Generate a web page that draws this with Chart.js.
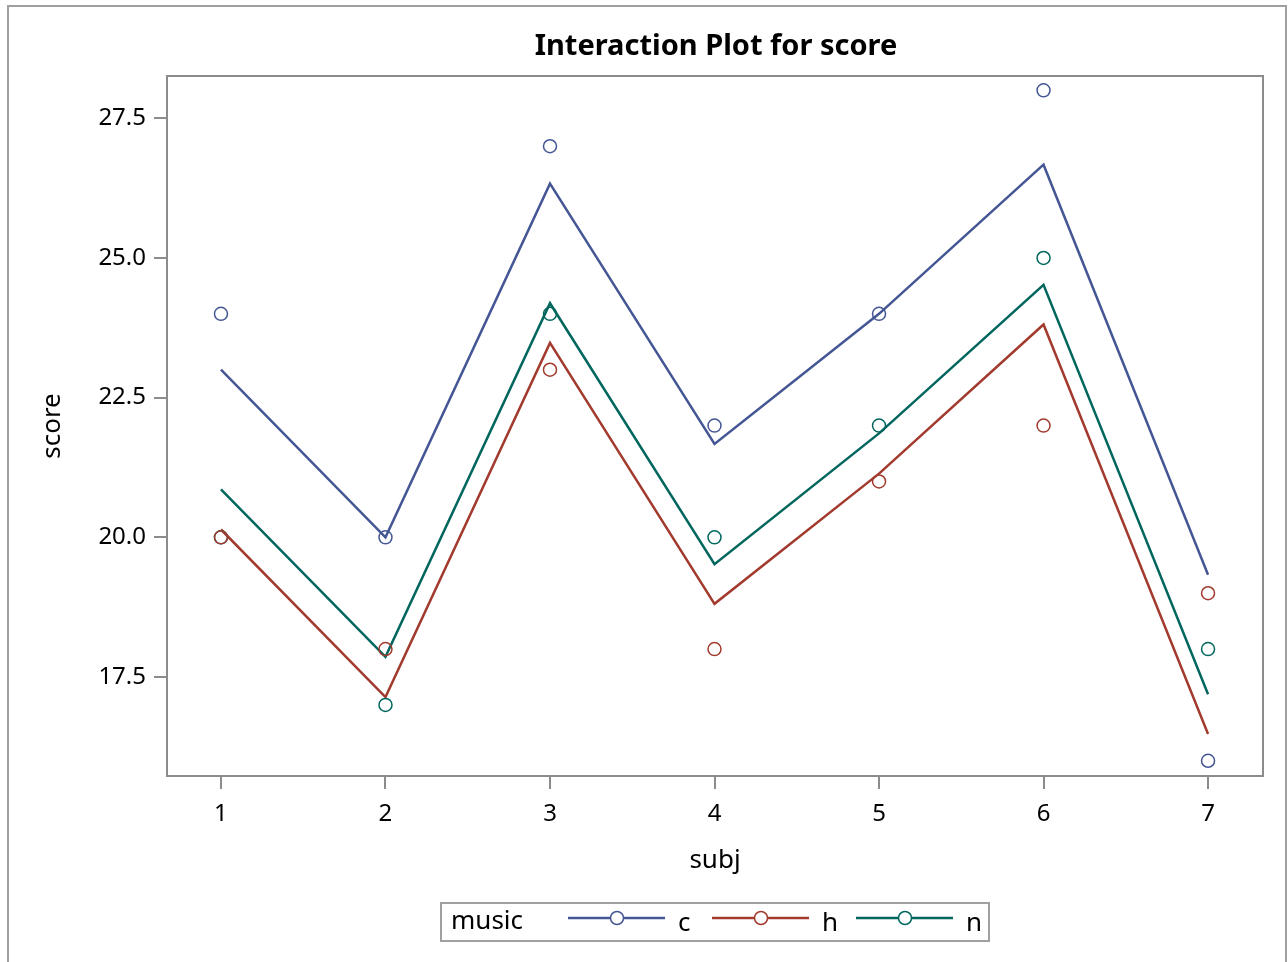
<!DOCTYPE html>
<html>
<head>
  <title>Interaction Plot for score</title>
  <script src="https://cdn.jsdelivr.net/npm/chart.js"></script>
  <style>
    html, body { margin: 0; padding: 0; background: #fff; }
  </style>
</head>
<body>
<canvas id="myChart" width="1288" height="962"></canvas>
<script>
  // subjects on the x axis
  const subj = [1, 2, 3, 4, 5, 6, 7];
  const musicLevels = ['c', 'h', 'n'];

  // observed scores per music level
  const obsC = [24, 20, 27, 22, 24, 28, 16];
  const obsH = [20, 18, 23, 18, 21, 22, 19];
  const obsN = [20, 17, 24, 20, 22, 25, 18];

  // fitted (additive model) profiles
  const fitC = [23.00, 20.00, 26.33, 21.67, 24.00, 26.67, 19.33];
  const fitH = [20.14, 17.14, 23.48, 18.81, 21.14, 23.81, 16.48];
  const fitN = [20.86, 17.86, 24.19, 19.52, 21.86, 24.52, 17.19];

  const yTicks = [17.5, 20.0, 22.5, 25.0, 27.5];
  const xTicks = [1, 2, 3, 4, 5, 6, 7];

  const colors = ['#445694', '#A23A2E', '#01665E'];
  const frameColor = '#8c8c8c';
  const fontFamily = '"Noto Sans", "Open Sans", sans-serif';

  function pts(values) {
    return subj.map((s, i) => ({ x: s, y: values[i] }));
  }

  function fitSet(label, values, color) {
    return {
      label: label,
      data: pts(values),
      borderColor: color,
      borderWidth: 2.5,
      pointRadius: 0,
      showLine: true,
      fill: false,
      tension: 0
    };
  }

  function obsSet(label, values, color) {
    return {
      label: label,
      data: pts(values),
      borderColor: color,
      backgroundColor: 'rgba(0,0,0,0)',
      pointStyle: 'circle',
      pointRadius: 6.5,
      pointBorderWidth: 1.5,
      showLine: false
    };
  }

  // title, frame round the plot, outer border and the music legend
  const decorations = {
    id: 'decorations',
    afterDraw(chart) {
      const ctx = chart.ctx;
      const a = chart.chartArea;
      ctx.save();

      ctx.strokeStyle = '#a0a0a0';
      ctx.lineWidth = 2;
      ctx.beginPath();
      ctx.moveTo(8, 970);
      ctx.lineTo(8, 6);
      ctx.lineTo(1286, 6);
      ctx.lineTo(1286, 970);
      ctx.stroke();

      ctx.strokeStyle = frameColor;
      ctx.lineWidth = 2;
      ctx.strokeRect(a.left, a.top, a.right - a.left, a.bottom - a.top);

      ctx.fillStyle = '#000';
      ctx.font = 'bold 29px ' + fontFamily;
      ctx.textAlign = 'center';
      ctx.textBaseline = 'middle';
      ctx.fillText('Interaction Plot for score', (a.left + a.right) / 2 + 1, 47);

      // legend
      const lx = 441, ly = 903, lw = 548, lh = 38;
      ctx.strokeStyle = '#a0a0a0';
      ctx.lineWidth = 2;
      ctx.strokeRect(lx, ly, lw, lh);
      ctx.font = '26px ' + fontFamily;
      ctx.textAlign = 'left';
      ctx.textBaseline = 'middle';
      ctx.fillStyle = '#000';
      ctx.fillText('music', 451, ly + lh / 2);
      const cy = 918;
      musicLevels.forEach((lvl, i) => {
        const x0 = 568 + i * 144;
        ctx.strokeStyle = colors[i];
        ctx.lineWidth = 2.5;
        ctx.beginPath();
        ctx.moveTo(x0, cy);
        ctx.lineTo(x0 + 97, cy);
        ctx.stroke();
        ctx.fillStyle = '#fff';
        ctx.lineWidth = 1.5;
        ctx.beginPath();
        ctx.arc(x0 + 49, cy, 6.5, 0, Math.PI * 2);
        ctx.fill();
        ctx.stroke();
        ctx.fillStyle = '#000';
        ctx.fillText(lvl, x0 + 110, ly + lh / 2 + 2);
      });
      ctx.restore();
    }
  };

  const ctx = document.getElementById('myChart').getContext('2d');
  new Chart(ctx, {
    type: 'line',
    data: {
      datasets: [
        obsSet('c', obsC, colors[0]),
        obsSet('h', obsH, colors[1]),
        obsSet('n', obsN, colors[2]),
        fitSet('c', fitC, colors[0]),
        fitSet('h', fitH, colors[1]),
        fitSet('n', fitN, colors[2])
      ]
    },
    options: {
      responsive: false,
      animation: false,
      layout: { padding: { top: 76, right: 25, bottom: 86, left: 0 } },
      plugins: {
        legend: { display: false },
        tooltip: { enabled: false },
        title: { display: false }
      },
      scales: {
        x: {
          type: 'linear',
          min: 0.672,
          max: 7.334,
          afterFit(scale) { scale.height = 100; },
          afterBuildTicks(scale) { scale.ticks = xTicks.map(v => ({ value: v })); },
          border: { display: false },
          grid: {
            drawOnChartArea: false,
            drawTicks: true,
            tickLength: 13,
            color: frameColor,
            lineWidth: 2
          },
          ticks: {
            color: '#000',
            padding: 11,
            font: { family: fontFamily, size: 24 },
            callback: v => String(v)
          },
          title: {
            display: true,
            text: 'subj',
            color: '#000',
            font: { family: fontFamily, size: 26, lineHeight: 1 },
            padding: { top: 0, bottom: 2 }
          }
        },
        y: {
          type: 'linear',
          min: 15.728,
          max: 28.257,
          afterFit(scale) { scale.width = 167; },
          afterBuildTicks(scale) { scale.ticks = yTicks.map(v => ({ value: v })); },
          border: { display: false },
          grid: {
            drawOnChartArea: false,
            drawTicks: true,
            tickLength: 13,
            color: frameColor,
            lineWidth: 2
          },
          ticks: {
            color: '#000',
            padding: 8,
            font: { family: fontFamily, size: 24 },
            callback: v => Number(v).toFixed(1)
          },
          title: {
            display: true,
            text: 'score',
            color: '#000',
            font: { family: fontFamily, size: 26 },
            padding: { top: 37, bottom: 0 }
          }
        }
      }
    },
    plugins: [decorations]
  });
</script>
</body>
</html>
